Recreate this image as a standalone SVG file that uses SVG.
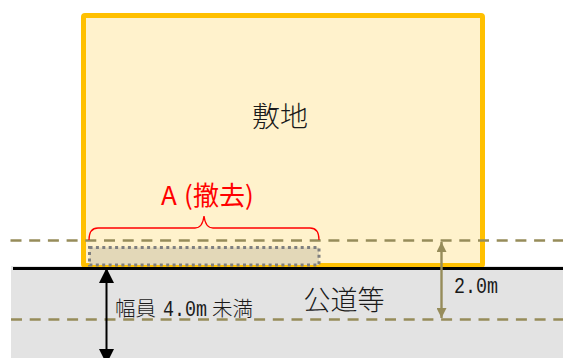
<svg xmlns="http://www.w3.org/2000/svg" width="563" height="358" viewBox="0 0 563 358">
<style>
text{font-family:"Noto Sans CJK JP","Liberation Sans",sans-serif;fill:#1a1a1a;font-weight:300}
.dash{fill:none;stroke:#968c5a;stroke-width:2.4;stroke-dasharray:11 7.7}
.mono{font-family:"Liberation Mono","Noto Sans CJK JP",monospace;font-weight:400}
.red{fill:#ff0000;font-weight:400}
</style>
<defs>
<marker id="ah" viewBox="0 0 15 15" refX="15" refY="7.500" markerWidth="15" markerHeight="15" markerUnits="userSpaceOnUse" orient="auto-start-reverse"><path d="M0 0L15 7.500L0 15Z" fill="#000"/></marker>
<marker id="ao" viewBox="0 0 10 10" refX="10" refY="5" markerWidth="10" markerHeight="10" markerUnits="userSpaceOnUse" orient="auto-start-reverse"><path d="M0 0L10 5L0 10Z" fill="#968c5a"/></marker>
</defs>
<g id="road"><rect x="11" y="266" width="552" height="92" fill="#e3e3e3"/><text x="344" y="310" font-size="27" text-anchor="middle">公道等</text></g>
<g id="site"><rect x="83.500" y="15.500" width="399" height="250" rx="1.500" fill="#fff2cc" stroke="#ffc000" stroke-width="5"/><text x="280" y="127" font-size="28" text-anchor="middle">敷地</text></g>
<g id="removed"><rect x="89.500" y="247.500" width="229.500" height="17.500" fill="#e3d8b8" stroke="#7f7f7f" stroke-width="3" stroke-dasharray="3 3.400"/>
<text y="205" font-size="26" class="red"><tspan x="161">A</tspan><tspan x="184">(</tspan><tspan x="193">撤去</tspan><tspan x="245">)</tspan></text></g>
<g id="connectors">
<path d="M13 268.500H563" fill="none" stroke="#000" stroke-width="3"/>
<path class="dash" d="M10.500 240.500H563"/>
<path class="dash" d="M11 319.500H563"/>
<path d="M89 240C89 232 92 228 98 228H195C200 228 203 224 204 216C205 224 208 228 213 228H310C316 228 319 232 319 240" fill="none" stroke="#ff0000" stroke-width="1.300"/>
<path d="M106.500 268V364" fill="none" stroke="#000" stroke-width="2" marker-start="url(#ah)" marker-end="url(#ah)"/>
<path d="M441.500 242V318" fill="none" stroke="#968c5a" stroke-width="2.400" marker-start="url(#ao)" marker-end="url(#ao)"/>
</g>
<g id="labels">
<text x="115" y="316" font-size="20.500">幅員</text>
<text x="163" y="316" font-size="22" class="mono" textLength="44" lengthAdjust="spacingAndGlyphs">4.0m</text>
<text x="212" y="316" font-size="20.500">未満</text>
<text x="454" y="293" font-size="22" class="mono" textLength="44" lengthAdjust="spacingAndGlyphs">2.0m</text>
</g>
</svg>
